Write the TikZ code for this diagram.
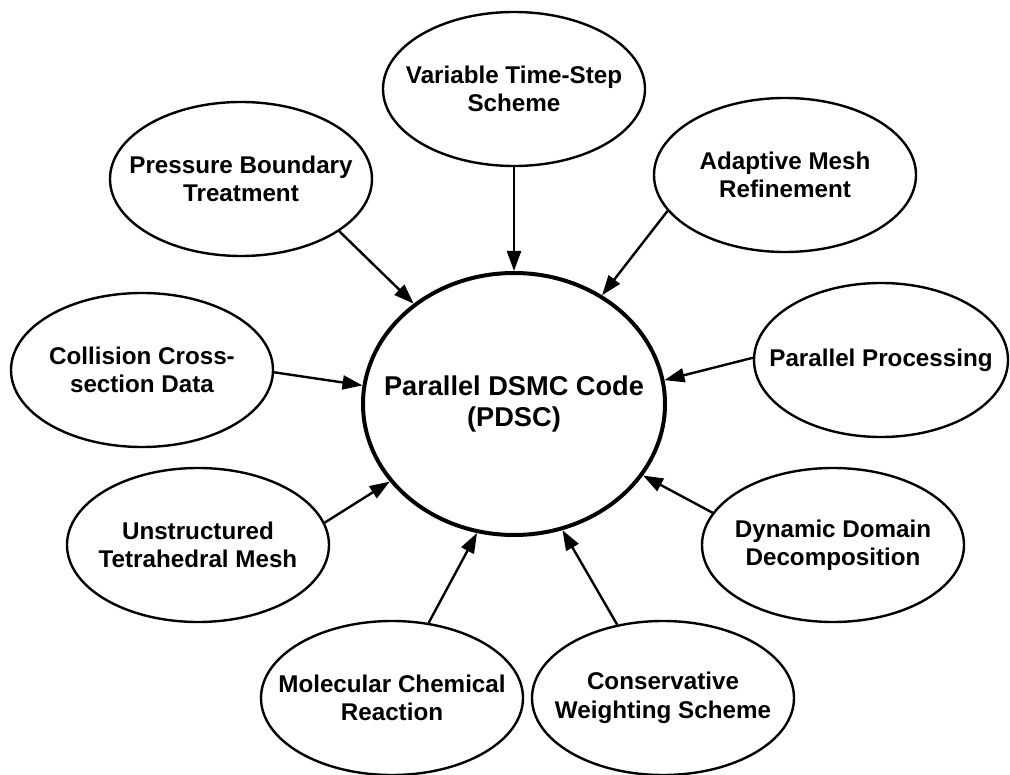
\documentclass[tikz,border=0pt]{standalone}
\usepackage{fontspec}
\setmainfont{Liberation Sans}
\usetikzlibrary{shapes.geometric,arrows.meta}
\begin{document}
\begin{tikzpicture}[x=1pt,y=-1pt,
  bubble/.style={ellipse,draw,line width=2.4pt,minimum width=262pt,minimum height=154pt,
    inner sep=-30pt,align=center,font=\fontsize{24.2}{28.5}\selectfont\bfseries},
  hub/.style={ellipse,draw,line width=4pt,minimum width=302pt,minimum height=262pt,
    inner sep=-40pt,align=center,font=\fontsize{27.2}{31.5}\selectfont\bfseries},
  feed/.style={line width=2.4pt,-{Triangle[length=20pt,width=14pt]}}]
\useasboundingbox (0,0) rectangle (1010,775);

% central module
\node[hub] (pdsc) at (514,404) {Parallel DSMC Code\\(PDSC)};

% contributing features
\node[bubble] (vts) at (514,89)  {Variable Time-Step\\Scheme};
\node[bubble] (pbt) at (241,179) {Pressure Boundary\\Treatment};
\node[bubble] (amr) at (785,175) {Adaptive Mesh\\Refinement};
\node[bubble] (ccd) at (142,370) {Collision Cross-\\section Data};
\node[bubble, minimum width=254pt] (par) at (881,360) {Parallel Processing};
\node[bubble] (utm) at (198,545) {Unstructured\\Tetrahedral Mesh};
\node[bubble] (ddd) at (833,545) {Dynamic Domain\\Decomposition};
\node[bubble] (mcr) at (392,698) {Molecular Chemical\\Reaction};
\node[bubble] (cws) at (663,698) {Conservative\\Weighting Scheme};

% links into the code
\draw[feed] (vts.south) -- (pdsc.north);
\draw[feed] (pbt.-28.2)  -- (pdsc.135.3);
\draw[feed] (amr.197.4)  -- (pdsc.51.6);
\draw[feed] (ccd.-1.8)   -- (pdsc.173.6);
\draw[feed] (par.179.5)  -- (pdsc.9.9);
\draw[feed] (utm.10.4)   -- (pdsc.212.1);
\draw[feed] (mcr.64.4)   -- (pdsc.254.5);
\draw[feed] (ddd.165.5)  -- (pdsc.-29.1);
\draw[feed] (cws.122.6)  -- (pdsc.-69);
\end{tikzpicture}
\end{document}
